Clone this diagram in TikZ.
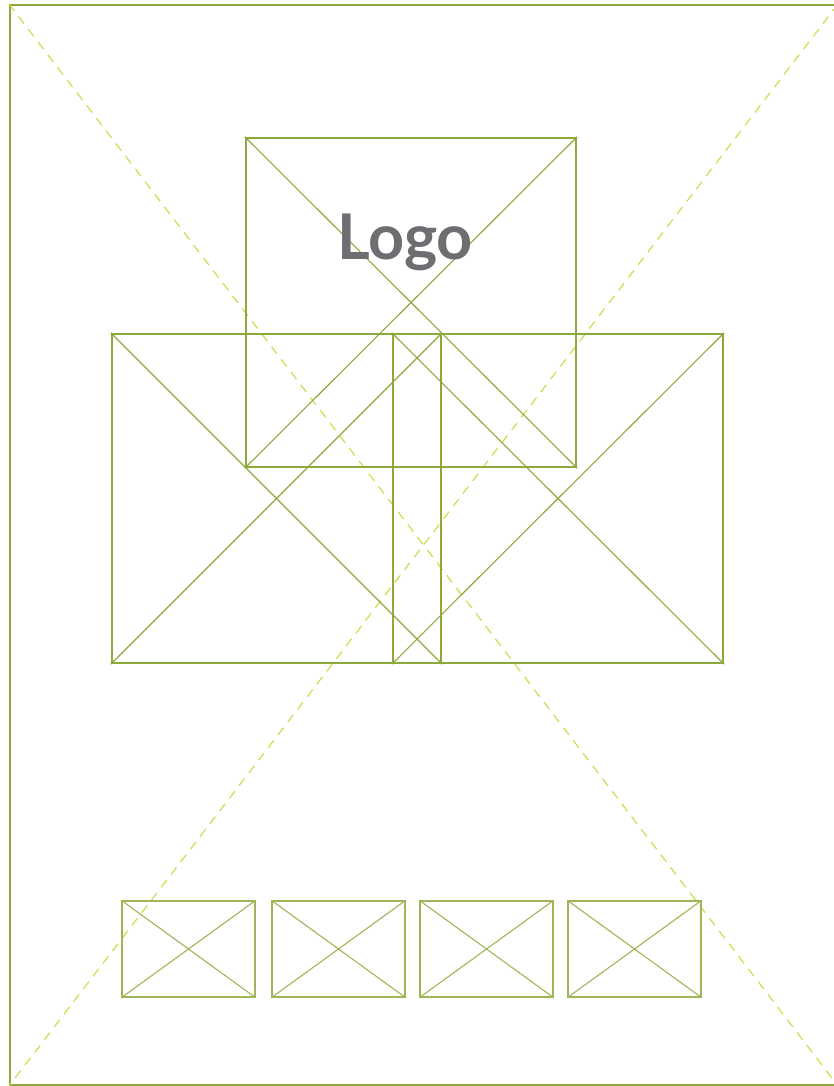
\documentclass[tikz,border=0pt]{standalone}
\usepackage{fontspec}
\setmainfont{Lato}
\usepackage{xcolor}
\usepackage{tikz}
\usetikzlibrary{positioning}
\definecolor{wiregreen}{HTML}{8DA83B}
\definecolor{guidegreen}{HTML}{C4DE3C}
\definecolor{logogray}{HTML}{6D6E71}

\begin{document}
\begin{tikzpicture}[
    x=1pt, y=-1pt,
    frame/.style={draw=wiregreen, line width=2.4pt, inner sep=0pt},
    bigbox/.style={draw=wiregreen, line width=2.4pt, inner sep=0pt,
                   minimum height=329pt},
    thumb/.style={draw=wiregreen!85, line width=1.3pt, inner sep=0pt,
                  minimum width=133pt, minimum height=96pt},
    cross/.style={draw=wiregreen, line width=1.1pt},
    guide/.style={draw=guidegreen, line width=1.1pt, dash pattern=on 9pt off 7pt},
]
    \useasboundingbox (0,0) rectangle (834,1086);

    % page frame with its guide lines
    \node[frame, minimum width=827pt, minimum height=1080pt] (page) at (423.5,545) {};
    \draw[guide] (page.north west) -- (page.south east);
    \draw[guide] (page.north east) -- (page.south west);

    % logo block
    \node[bigbox, minimum width=330pt] (logo) at (411,302.5) {};
    \draw[cross] (logo.north west) -- (logo.south east);
    \draw[cross] (logo.north east) -- (logo.south west);

    % two hero images
    \node[bigbox, minimum width=329pt] (heroL) at (276.5,498.5) {};
    \node[bigbox, minimum width=330pt] (heroR) at (558,498.5) {};
    \foreach \h in {heroL, heroR} {
        \draw[cross] (\h.north west) -- (\h.south east);
        \draw[cross] (\h.north east) -- (\h.south west);
    }

    \node[text=logogray, font=\fontsize{63}{63}\selectfont\bfseries] (logotext) at (405,242) {Logo};

    % thumbnails
    \foreach \x/\n in {188.5/t1, 338.5/t2, 486.5/t3, 634.5/t4} {
        \node[thumb] (\n) at (\x,949) {};
        \draw[cross, draw=wiregreen!85] (\n.north west) -- (\n.south east);
        \draw[cross, draw=wiregreen!85] (\n.north east) -- (\n.south west);
    }
\end{tikzpicture}
\end{document}
